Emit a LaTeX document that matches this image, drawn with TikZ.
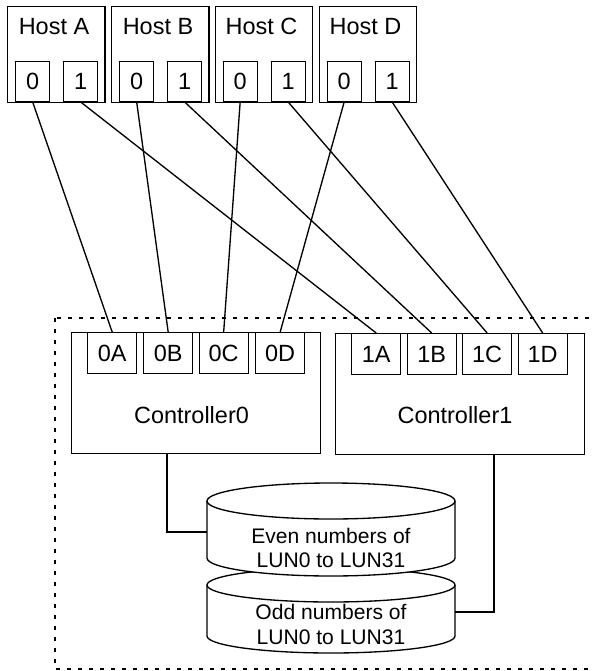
\documentclass[tikz,border=0pt]{standalone}
\usepackage{fontspec}
\setmainfont{Liberation Sans}
\begin{document}
\begin{tikzpicture}[x=0.75pt,y=-0.75pt,
  box/.style={draw,line width=1pt,inner sep=0pt,fill=white},
  hostbox/.style={box,minimum width=72.9pt,minimum height=72pt,anchor=north west},
  hport/.style={box,minimum width=25.5pt,minimum height=30pt,anchor=south west,font=\fontsize{17.6}{21}\selectfont},
  cport/.style={box,minimum width=36.75pt,minimum height=30.75pt,anchor=north west,font=\fontsize{17.6}{21}\selectfont},
  ctrl/.style={box,minimum width=186.75pt,minimum height=90.75pt,anchor=north west},
  lbl/.style={font=\fontsize{17.6}{21}\selectfont,inner sep=0pt,anchor=base},
  ctext/.style={font=\fontsize{15.8}{19}\selectfont,inner sep=0pt,anchor=base},
  wire/.style={line width=1pt},
  cyl/.style={draw,fill=white,line width=1pt},
  frame/.style={line width=1pt,dash pattern=on 3pt off 5.25pt}]
\useasboundingbox (0,0) rectangle (592,671);
\clip (0,0) rectangle (592,671);

% dashed enclosure (runs past the right edge)
\draw[frame] (55,318) rectangle (620,669);

% hosts
\foreach \n/\x in {A/7,B/111,C/214.5,D/318.5}{
  \node[hostbox] (h\n) at (\x,6) {};
  \node[lbl] (h\n t) at (\x+47,34.3) {Host \n};
  \node[hport] (h\n0) at (\x+8,102) {0};
  \node[hport] (h\n1) at (\x+56,102) {1};
}

% controllers
\node[ctrl] (c0) at (71,332) {};
\node[ctrl] (c1) at (335,333) {};
\node[lbl] (c0t) at (191.5,423) {Controller0};
\node[lbl] (c1t) at (455,423.5) {Controller1};
\foreach \p/\x in {A/87,B/143,C/198.5,D/255}{
  \node[cport] (k0\p) at (\x,332) {0\p};
}
\foreach \p/\x in {A/351,B/406.5,C/462,D/517.5}{
  \node[cport] (k1\p) at (\x,333) {1\p};
}

% host to controller links
\foreach \p in {A,B,C,D}{
  \draw[wire] (h\p0.south) -- (k0\p.north);
  \draw[wire] (h\p1.south) -- (k1\p.north);
}

% lower cylinder (odd)
\draw[cyl] (207,585) -- (207,636)
  arc[start angle=180,end angle=360,x radius=93pt,y radius=12.75pt]
  -- (455,585)
  arc[start angle=0,end angle=180,x radius=93pt,y radius=12.75pt] -- cycle;
\draw[wire] (207,585) arc[start angle=180,end angle=360,x radius=93pt,y radius=12.75pt];

% upper cylinder (even)
\draw[cyl] (207,501) -- (207,558)
  arc[start angle=180,end angle=360,x radius=93pt,y radius=13.5pt]
  -- (455,501)
  arc[start angle=0,end angle=180,x radius=93pt,y radius=13.5pt] -- cycle;
\draw[wire] (207,501) arc[start angle=180,end angle=360,x radius=93pt,y radius=13.5pt];

\node[ctext] (eU1) at (331,543) {Even numbers of};
\node[ctext] (eU2) at (331,567.5) {LUN0 to LUN31};
\node[ctext] (oL1) at (331,619) {Odd numbers of};
\node[ctext] (oL2) at (331,644) {LUN0 to LUN31};

% controller to cylinder links
\coordinate (cUw) at (207,532);
\coordinate (j0) at (167,532);
\coordinate (cLe) at (455,612);
\coordinate (j1) at (494,612);
\draw[wire] (c0.south -| j0) |- (cUw);
\draw[wire] (c1.south -| j1) |- (cLe);
\end{tikzpicture}
\end{document}
